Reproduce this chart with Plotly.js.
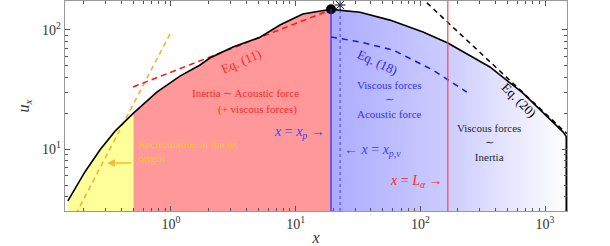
<!DOCTYPE html>
<html>
<head>
<meta charset="utf-8">
<script src="https://cdn.plot.ly/plotly-3.0.1.min.js"></script>
<style>html,body{margin:0;padding:0;background:#fff}#chart{width:610px;height:246px}</style>
</head>
<body>
<div id="chart"></div>
<script>
// ---- data ----
const curveX = [0.149, 0.204, 0.27, 0.356, 0.5, 0.77, 1.18, 1.71, 2.05, 3.14, 5.17, 7.48, 11.4, 19.2, 32.8, 57, 105, 166, 361, 665, 1390, 1480];
const curveY = [3.69, 6.46, 9.9, 14.2, 20.1, 30.2, 41.1, 50.9, 58.2, 72, 87, 110, 136, 149, 141, 121, 96, 77.8, 49, 29.6, 14.0, 12.8];
const xRecirc = 0.5;     // end of recirculation zone
const xP = 19.2;         // x = x_p
const xPV = 22.7;        // x = x_{p,v}
const xLalpha = 166;     // x = L_alpha
const uPeak = 149;
const uStar = 162;
const eq2X = [0.16, 1.0];          // orange dashed (slope 2)
const eq2Y = [2.46, 96];
const eq11X = [0.496, 19.2];       // Eq. (11)
const eq11Y = [33.3, 148];
const eq18X = [19.2, 32.8, 60.3, 126, 236];   // Eq. (18)
const eq18Y = [87.4, 79.3, 68, 46.2, 30.2];
const eq20X = [100, 1500];         // Eq. (20)
const eq20Y = [190, 13.5];
const xTickVals = [1, 10, 100, 1000];
const xTickText = ['10<sup>0</sup>', '10<sup>1</sup>', '10<sup>2</sup>', '10<sup>3</sup>'];
const yTickVals = [10, 100];
const yTickText = ['10<sup>1</sup>', '10<sup>2</sup>'];

// ---- helpers ----
const FLOOR = 1;    // below the visible y-range, for closing fill polygons
const CEIL = 1000;  // above the visible y-range
function pick(x0, x1) {
  const xs = [], ys = [];
  curveX.forEach((x, i) => { if (x >= x0 && x <= x1) { xs.push(x); ys.push(curveY[i]); } });
  return { xs: xs, ys: ys };
}
function under(x0, x1) {
  const s = pick(x0, x1);
  return { x: s.xs.concat([s.xs[s.xs.length - 1], s.xs[0]]), y: s.ys.concat([FLOOR, FLOOR]) };
}
function over(x0, x1) {
  const s = pick(x0, x1);
  return { x: s.xs.concat([s.xs[s.xs.length - 1], s.xs[0]]), y: s.ys.concat([CEIL, CEIL]) };
}
function minorVals(lo, hi) {
  const v = [];
  for (let d = lo; d <= hi; d++) for (let k = 2; k <= 9; k++) v.push(k * Math.pow(10, d));
  return v;
}
const FONT = 'Liberation Serif';
const xEnd = curveX[curveX.length - 1];

// horizontal gradient for the viscous region (heatmap strip, masked above the curve)
const NG = 150;
const gEdges = [], gZ = [];
const l0 = Math.log10(xP), l1 = Math.log10(xEnd);
for (let i = 0; i <= NG; i++) gEdges.push(Math.pow(10, l0 + (l1 - l0) * i / NG));
for (let i = 0; i < NG; i++) gZ.push((i + 0.5) / NG);

const segY = under(curveX[0], xRecirc);
const segR = under(xRecirc, xP);
const mask = over(xP, xEnd);

const traces = [
  { type: 'heatmap', x: gEdges, y: [FLOOR, CEIL], z: [gZ], zmin: 0, zmax: 1, showscale: false, hoverinfo: 'skip',
    colorscale: [[0, 'rgb(172,172,255)'], [0.5, 'rgb(204,204,255)'], [1, 'rgb(255,255,255)']] },
  { x: mask.x, y: mask.y, fill: 'toself', fillcolor: 'white', line: { width: 0 }, mode: 'lines', hoverinfo: 'skip' },
  { x: segY.x, y: segY.y, fill: 'toself', fillcolor: 'rgb(255,255,153)', line: { width: 0 }, mode: 'lines', hoverinfo: 'skip' },
  { x: segR.x, y: segR.y, fill: 'toself', fillcolor: 'rgb(255,153,153)', line: { width: 0 }, mode: 'lines', hoverinfo: 'skip' },
  { x: eq2X, y: eq2Y, mode: 'lines', line: { color: 'rgb(240,176,40)', width: 1.5, dash: '5px,4px' } },
  { x: eq11X, y: eq11Y, mode: 'lines', line: { color: 'rgb(255,20,20)', width: 1.5, dash: '6px,4px' } },
  { x: eq18X, y: eq18Y, mode: 'lines', line: { color: 'rgb(20,20,255)', width: 1.5, dash: '6px,5px' } },
  { x: eq20X, y: eq20Y, mode: 'lines', line: { color: 'black', width: 1.5, dash: '5px,4px' } },
  { x: curveX.concat([xEnd]), y: curveY.concat([FLOOR]), mode: 'lines', line: { color: 'black', width: 1.6 } },
  { x: [xP], y: [uPeak], mode: 'markers', marker: { color: 'black', size: 10 } },
  { x: [xPV], y: [uStar], mode: 'markers', marker: { symbol: 'asterisk-open', size: 9, color: 'black', line: { color: 'black', width: 1 } } }
];

const W = 610, H = 246, ML = 65, MR = 43, MT = 1, MB = 35;
const pw = W - ML - MR, ph = H - MT - MB;
const px = p => (p - ML) / pw;
const py = p => (H - MB - p) / ph;

function ann(text, x, y, color, opts) {
  return Object.assign({ text: text, x: px(x), y: py(y), xref: 'paper', yref: 'paper', showarrow: false,
    font: { family: FONT, size: 11, color: color } }, opts || {});
}

const annotations = [
  ann('Eq. (11)', 216, 43, 'rgb(255,40,40)', { textangle: -24, font: { family: FONT, size: 13, color: 'rgb(255,40,40)' } }),
  ann('Inertia ∼ Acoustic force', 245, 93, 'rgb(255,40,40)'),
  ann('(+ viscous forces)', 257, 110, 'rgb(255,40,40)'),
  ann('Viscous forces<br>∼<br>Acoustic force', 389, 99, 'rgb(50,50,255)'),
  ann('<i>x</i> = <i>x<sub>p</sub></i> →', 327, 143, 'rgb(60,60,255)', { xanchor: 'right', font: { family: FONT, size: 14, color: 'rgb(60,60,255)' } }),
  ann('← <i>x</i> = <i>x<sub>p,v</sub></i>', 342, 161, 'rgb(60,60,255)', { xanchor: 'left', font: { family: FONT, size: 14, color: 'rgb(60,60,255)' } }),
  ann('<i>x</i> = <i>L<sub>α</sub></i> →', 445, 192, 'rgb(255,40,40)', { xanchor: 'right', font: { family: FONT, size: 14, color: 'rgb(255,40,40)' } }),
  ann('Recirculation at the jet<br>origin', 136, 165.5, 'rgb(245,205,20)', { xanchor: 'left', align: 'left' }),
  { text: '', x: px(107), y: py(163), xref: 'paper', yref: 'paper', showarrow: true, ax: 26, ay: 0,
    arrowcolor: 'rgb(240,190,60)', arrowwidth: 1.6, arrowhead: 2, arrowsize: 1 },
  ann('Eq. (18)', 403, 44, 'rgb(40,40,255)', { textangle: 25, font: { family: FONT, size: 13, color: 'rgb(40,40,255)' } }),
  ann('Eq. (20)', 543, 100, 'black', { textangle: 45, font: { family: FONT, size: 13, color: 'black' } }),
  ann('Viscous forces<br>∼<br>Inertia', 523, 165, 'rgb(40,40,40)')
];

const shapes = [
  { type: 'line', xref: 'x', yref: 'paper', x0: xP, x1: xP, y0: 0, y1: (Math.log10(uPeak) - 0.483) / 1.760, line: { color: 'rgb(40,40,255)', width: 1.2 } },
  { type: 'line', xref: 'x', yref: 'paper', x0: xPV, x1: xPV, y0: 0, y1: 1, line: { color: 'rgb(60,60,255)', width: 1, dash: 'dot' } },
  { type: 'line', xref: 'x', yref: 'paper', x0: xLalpha, x1: xLalpha, y0: 0, y1: 1, line: { color: 'rgb(255,70,70)', width: 1.2 } }
];

const axisCommon = {
  type: 'log', showgrid: false, zeroline: false, showline: true, linecolor: '#999', linewidth: 1.2, mirror: 'allticks',
  ticks: 'inside', ticklen: 5, tickcolor: '#555', tickwidth: 1,
  tickfont: { family: FONT, size: 14, color: '#333' }
};

const layout = {
  width: W, height: H, margin: { l: ML, r: MR, t: MT, b: MB },
  paper_bgcolor: 'white', plot_bgcolor: 'white', showlegend: false,
  font: { family: FONT },
  xaxis: Object.assign({}, axisCommon, {
    range: [-0.850, 3.176], tickvals: xTickVals, ticktext: xTickText,
    minor: { tickvals: minorVals(-1, 3), ticks: 'inside', ticklen: 3, tickcolor: '#555' },
    title: { text: '<i>x</i>', font: { family: FONT, size: 16, color: '#333' }, standoff: 2 }
  }),
  yaxis: Object.assign({}, axisCommon, {
    range: [0.483, 2.243], tickvals: yTickVals, ticktext: yTickText,
    minor: { tickvals: minorVals(0, 2), ticks: 'inside', ticklen: 3, tickcolor: '#555' },
    title: { text: '<i>u<sub>x</sub></i>', font: { family: FONT, size: 16, color: '#333' }, standoff: 8 }
  }),
  annotations: annotations, shapes: shapes
};

Plotly.newPlot('chart', traces, layout, { staticPlot: true, displayModeBar: false });
</script>
</body>
</html>
